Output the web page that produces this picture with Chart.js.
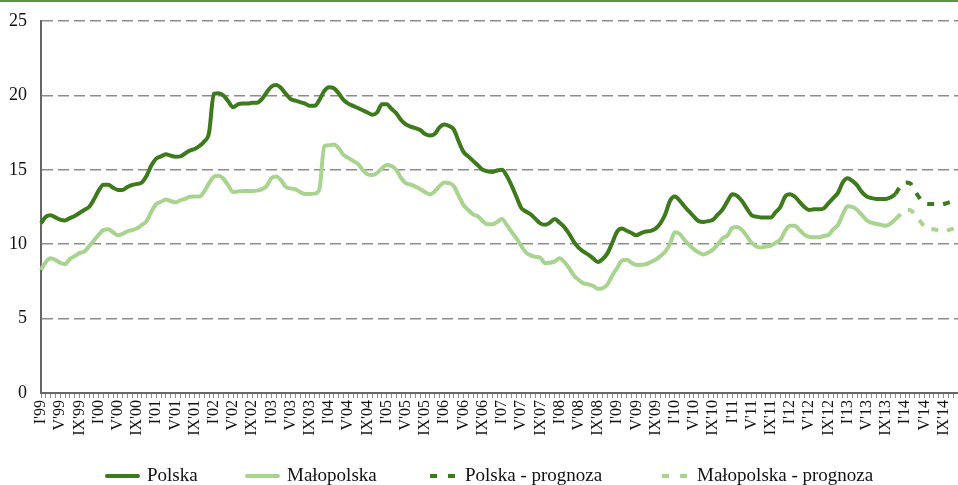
<!DOCTYPE html>
<html>
<head>
<meta charset="utf-8">
<script src="https://cdn.jsdelivr.net/npm/chart.js@4"></script>
<style>
  html, body { margin: 0; padding: 0; background: #fff; }
  #wrap { position: relative; width: 958px; height: 485px; }
</style>
</head>
<body>
<div id="wrap"><canvas id="chart-1"></canvas></div>
<script>
// labels: I'99 ... XII'14, one per month
const months = ['I', 'II', 'III', 'IV', 'V', 'VI', 'VII', 'VIII', 'IX', 'X', 'XI', 'XII'];
const years = ['99', '00', '01', '02', '03', '04', '05', '06', '07', '08', '09', '10', '11', '12', '13', '14'];
const labels = years.flatMap(y => months.map(m => m + "'" + y));

// stopa bezrobocia (%), I'99 - XI'13
const polska = [
  11.4, 11.85, 11.95, 11.8, 11.65, 11.6, 11.75, 11.9, 12.1, 12.3, 12.5, 13.0,
  13.6, 14.0, 14.0, 13.8, 13.65, 13.65, 13.85, 13.98, 14.05, 14.15, 14.6, 15.3,
  15.75, 15.9, 16.05, 15.95, 15.88, 15.9, 16.1, 16.3, 16.4, 16.6, 16.9, 17.5,
  20.1, 20.15, 20.0, 19.6, 19.2, 19.4, 19.45, 19.45, 19.5, 19.5, 19.75, 20.2,
  20.6, 20.7, 20.5, 20.1, 19.75, 19.65, 19.55, 19.45, 19.3, 19.3, 19.7, 20.3,
  20.55, 20.48, 20.15, 19.7, 19.45, 19.3, 19.15, 19.0, 18.85, 18.7, 18.85, 19.4,
  19.4, 19.1, 18.8, 18.35, 18.05, 17.9, 17.8, 17.67, 17.4, 17.3, 17.4, 17.85,
  18.05, 17.95, 17.7, 16.9, 16.2, 15.9, 15.6, 15.3, 15.0, 14.9, 14.85, 14.95,
  15.0, 14.6, 13.95, 13.2, 12.45, 12.2, 12.0, 11.7, 11.4, 11.3, 11.45, 11.7,
  11.45, 11.15, 10.7, 10.15, 9.75, 9.5, 9.3, 9.05, 8.8, 9.0, 9.4, 10.1,
  10.85, 11.05, 10.9, 10.75, 10.6, 10.75, 10.85, 10.9, 11.05, 11.4, 12.0, 12.9,
  13.2, 12.95, 12.55, 12.2, 11.85, 11.55, 11.5, 11.55, 11.65, 12.0, 12.35, 12.9,
  13.35, 13.25, 12.9, 12.4, 11.95, 11.85, 11.8, 11.8, 11.8, 12.15, 12.5, 13.2,
  13.35, 13.2, 12.85, 12.5, 12.3, 12.35, 12.35, 12.4, 12.75, 13.1, 13.45, 14.15,
  14.43, 14.25, 13.95, 13.5, 13.2, 13.1, 13.04, 13.03, 13.04, 13.15, 13.37
];
const malopolska = [
  8.27, 8.8, 9.05, 8.95, 8.75, 8.65, 9.0, 9.2, 9.4, 9.5, 9.85, 10.25,
  10.62, 10.95, 11.0, 10.8, 10.6, 10.7, 10.87, 10.95, 11.07, 11.3, 11.55, 12.2,
  12.7, 12.85, 13.0, 12.9, 12.82, 12.95, 13.05, 13.19, 13.2, 13.2, 13.55, 14.1,
  14.54, 14.6, 14.4, 13.95, 13.5, 13.55, 13.57, 13.57, 13.57, 13.6, 13.7, 13.9,
  14.45, 14.55, 14.3, 13.85, 13.75, 13.68, 13.5, 13.37, 13.37, 13.4, 13.7, 16.6,
  16.65, 16.7, 16.45, 16.0, 15.8, 15.6, 15.4, 15.0, 14.7, 14.65, 14.8, 15.1,
  15.32, 15.25, 15.0, 14.45, 14.1, 14.0, 13.87, 13.7, 13.5, 13.35, 13.55, 13.9,
  14.15, 14.1, 13.9, 13.25, 12.63, 12.3, 12.0, 11.87, 11.55, 11.34, 11.34, 11.5,
  11.7, 11.3, 10.85, 10.4, 9.9, 9.45, 9.25, 9.15, 9.09, 8.72, 8.75, 8.85,
  9.05, 8.8, 8.4, 7.9, 7.6, 7.37, 7.3, 7.2, 7.0, 7.05, 7.3, 7.9,
  8.4, 8.9, 8.95, 8.75, 8.6, 8.62, 8.65, 8.8, 8.95, 9.2, 9.5, 10.0,
  10.8, 10.7, 10.3, 9.95, 9.65, 9.45, 9.3, 9.45, 9.65, 10.0, 10.4, 10.6,
  11.1, 11.15, 10.95, 10.55, 10.1, 9.85, 9.77, 9.85, 9.9, 10.1, 10.3, 10.9,
  11.24, 11.24, 10.95, 10.65, 10.5, 10.47, 10.46, 10.55, 10.62, 11.0, 11.3, 12.0,
  12.55, 12.5, 12.3, 11.95, 11.6, 11.45, 11.36, 11.3, 11.24, 11.4, 11.69
];

// prognoza XI'13 - XII'14 (pierwszy punkt = ostatni punkt danych)
const polskaPrognoza = [13.37, 13.9, 14.15, 14.1, 13.6, 13.1, 12.75, 12.7, 12.7, 12.65, 12.7, 12.8, 12.9, 13.0];
const malopolskaPrognoza = [11.69, 12.0, 12.3, 12.3, 12.0, 11.6, 11.2, 11.0, 11.0, 10.9, 10.85, 10.95, 11.05, 11.15];

const yTicks = [0, 5, 10, 15, 20, 25];

const prognozaStart = polska.length - 1;
const pad = (arr, start) => labels.map((_, i) => (i >= start && i - start < arr.length) ? arr[i - start] : null);

const dark = '#3c7a1b';
const light = '#a9d48f';
const dash = [7, 9];
const serif = '"Liberation Serif", "DejaVu Serif", serif';

// green rule along the top edge
const topRule = {
  id: 'topRule',
  afterDraw(chart) {
    const ctx = chart.ctx;
    ctx.save();
    ctx.fillStyle = '#5c9442';
    ctx.fillRect(0, 0, chart.width, 2);
    ctx.restore();
  }
};

// legend row under the axis labels, items spaced like the original report
const legendX = [105, 245, 430, 662];
const legendRow = {
  id: 'legendRow',
  afterDraw(chart) {
    const ctx = chart.ctx;
    const y = 476;
    ctx.save();
    ctx.font = '19px ' + serif;
    ctx.textBaseline = 'alphabetic';
    ctx.fillStyle = '#111';
    chart.data.datasets.forEach((ds, i) => {
      const x = legendX[i];
      const dashed = ds.borderDash && ds.borderDash.length;
      ctx.strokeStyle = ds.borderColor;
      ctx.lineWidth = 4;
      ctx.beginPath();
      if (dashed) {
        ctx.lineCap = 'butt';
        ctx.setLineDash([7, 11]);
        ctx.moveTo(x, y);
        ctx.lineTo(x + 25, y);
      } else {
        ctx.lineCap = 'round';
        ctx.setLineDash([]);
        ctx.moveTo(x + 2, y);
        ctx.lineTo(x + 33, y);
      }
      ctx.stroke();
      ctx.setLineDash([]);
      ctx.fillText(ds.label, x + (dashed ? 35 : 42), y + 5);
    });
    ctx.restore();
  }
};

const data1 = {
  labels: labels,
  datasets: [
    { label: 'Polska', data: pad(polska, 0), borderColor: dark, backgroundColor: dark, borderWidth: 4 },
    { label: 'Małopolska', data: pad(malopolska, 0), borderColor: light, backgroundColor: light, borderWidth: 4 },
    { label: 'Polska - prognoza', data: pad(polskaPrognoza, prognozaStart), borderColor: dark, backgroundColor: dark, borderWidth: 4, borderDash: dash },
    { label: 'Małopolska - prognoza', data: pad(malopolskaPrognoza, prognozaStart), borderColor: light, backgroundColor: light, borderWidth: 4, borderDash: dash }
  ]
};

const config1 = {
  type: 'line',
  data: data1,
  options: {
    responsive: true,
    maintainAspectRatio: false,
    animation: false,
    layout: { padding: { top: 21, right: 0, bottom: 42, left: 0 } },
    elements: {
      point: { radius: 0, hoverRadius: 0 },
      line: { cubicInterpolationMode: 'monotone', borderCapStyle: 'butt', borderJoinStyle: 'round' }
    },
    scales: {
      x: {
        offset: false,
        grid: { drawOnChartArea: false, drawTicks: true, tickLength: 5, tickColor: '#8a8a8a', lineWidth: 1 },
        border: { display: true, color: '#666', width: 2 },
        ticks: {
          autoSkip: false,
          maxRotation: 90,
          minRotation: 90,
          padding: 2,
          color: '#111',
          font: { family: serif, size: 16 },
          callback: (v, i) => (i % 4 === 0 ? labels[i] : '')
        },
        afterFit: s => { s.height = 50; s.paddingLeft = 0; s.paddingRight = 0; }
      },
      y: {
        min: 0,
        max: 25,
        afterBuildTicks: s => { s.ticks = yTicks.map(v => ({ value: v })); },
        grid: { color: '#8c8c8c', lineWidth: 1.5, drawTicks: false },
        border: { display: true, color: '#666', width: 2, dash: [11, 5] },
        ticks: { padding: 14, color: '#111', font: { family: serif, size: 18 } },
        afterFit: s => { s.width = 41; s.paddingTop = 0; s.paddingBottom = 0; }
      }
    },
    plugins: {
      tooltip: { enabled: false },
      legend: { display: false }
    }
  },
  plugins: [topRule, legendRow]
};

const ctx1 = document.getElementById('chart-1');
const chart1 = new Chart(ctx1, config1);
</script>
</body>
</html>
